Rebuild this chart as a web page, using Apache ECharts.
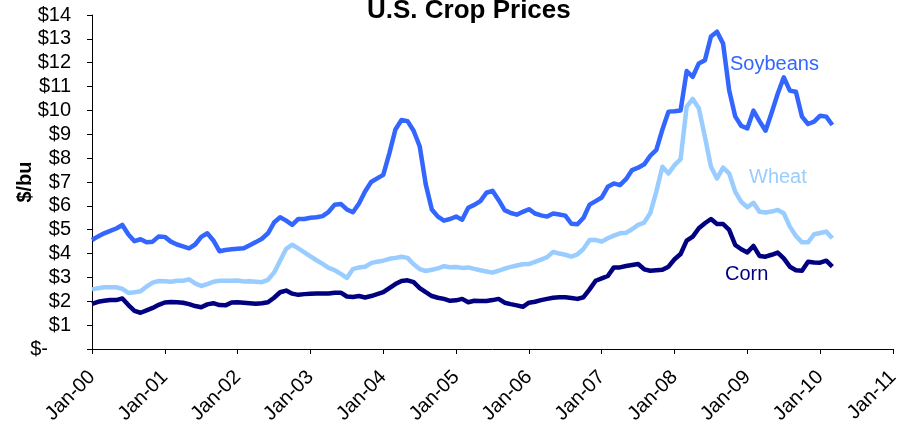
<!DOCTYPE html>
<html>
<head>
<meta charset="utf-8">
<script src="https://cdn.jsdelivr.net/npm/echarts@6/dist/echarts.min.js"></script>
<style>
  html, body { margin: 0; padding: 0; background: #ffffff; }
  #chart { width: 903px; height: 433px; }
</style>
</head>
<body>
<div id="chart"></div>
<script>
// Monthly farm prices, $/bushel, Jan 2000 – Mar 2010
const yearCodes = ['00', '01', '02', '03', '04', '05', '06', '07', '08', '09', '10', '11'];
const monthNames = ['Jan', 'Feb', 'Mar', 'Apr', 'May', 'Jun', 'Jul', 'Aug', 'Sep', 'Oct', 'Nov', 'Dec'];

const soybeans = [
  4.57, 4.72, 4.85, 4.95, 5.05, 5.20, 4.80, 4.52, 4.60, 4.47, 4.50, 4.72,
  4.70, 4.50, 4.38, 4.30, 4.22, 4.38, 4.70, 4.85, 4.55, 4.10, 4.15, 4.18,
  4.20, 4.22, 4.35, 4.48, 4.62, 4.85, 5.30, 5.52, 5.38, 5.20, 5.45, 5.45,
  5.50, 5.52, 5.57, 5.75, 6.05, 6.08, 5.85, 5.73, 6.10, 6.60, 7.00, 7.15,
  7.30, 8.20, 9.20, 9.60, 9.55, 9.15, 8.50, 6.90, 5.85, 5.55, 5.38, 5.45,
  5.55, 5.42, 5.92, 6.04, 6.20, 6.55, 6.63, 6.25, 5.82, 5.70, 5.63, 5.75,
  5.86, 5.68, 5.60, 5.55, 5.68, 5.64, 5.59, 5.25, 5.23, 5.50, 6.05, 6.20,
  6.35, 6.80, 6.94, 6.87, 7.12, 7.50, 7.60, 7.74, 8.10, 8.35, 9.20, 9.95,
  9.97, 10.00, 11.65, 11.41, 11.97, 12.10, 13.10, 13.30, 12.80, 10.85, 9.75, 9.35,
  9.25, 9.99, 9.55, 9.15, 9.90, 10.70, 11.39, 10.83, 10.78, 9.74, 9.43, 9.53,
  9.78, 9.74, 9.39
];

const wheat = [
  2.50, 2.55, 2.59, 2.59, 2.59, 2.52, 2.35, 2.38, 2.42, 2.62, 2.78, 2.85,
  2.84, 2.82, 2.86, 2.86, 2.92, 2.75, 2.64, 2.72, 2.82, 2.86, 2.86, 2.86,
  2.87, 2.83, 2.84, 2.82, 2.80, 2.90, 3.20, 3.70, 4.20, 4.37, 4.22, 4.05,
  3.88, 3.72, 3.57, 3.40, 3.30, 3.15, 2.98, 3.35, 3.42, 3.45, 3.60, 3.66,
  3.70, 3.78, 3.82, 3.87, 3.82, 3.55, 3.35, 3.27, 3.32, 3.38, 3.47, 3.43,
  3.44, 3.40, 3.42, 3.36, 3.30, 3.25, 3.20, 3.28, 3.37, 3.44, 3.50, 3.55,
  3.56, 3.65, 3.75, 3.85, 4.07, 4.00, 3.95, 3.87, 3.97, 4.20, 4.57, 4.57,
  4.50, 4.64, 4.75, 4.85, 4.87, 5.02, 5.20, 5.30, 5.70, 6.60, 7.64, 7.36,
  7.71, 7.96, 10.16, 10.48, 10.09, 8.90, 7.64, 7.15, 7.60, 7.36, 6.59, 6.17,
  5.94, 6.13, 5.75, 5.72, 5.76, 5.83, 5.69, 5.13, 4.74, 4.47, 4.47, 4.81,
  4.86, 4.92, 4.64
];

const corn = [
  1.89, 1.98, 2.02, 2.05, 2.05, 2.12, 1.84, 1.60, 1.52, 1.62, 1.72, 1.85,
  1.95, 1.97, 1.96, 1.94, 1.88, 1.80, 1.75, 1.87, 1.92, 1.84, 1.83, 1.95,
  1.96, 1.94, 1.92, 1.90, 1.92, 1.96, 2.15, 2.38, 2.45, 2.32, 2.27, 2.30,
  2.32, 2.33, 2.33, 2.33, 2.36, 2.36, 2.20, 2.18, 2.22, 2.16, 2.22, 2.30,
  2.38, 2.55, 2.72, 2.85, 2.88, 2.80, 2.55, 2.38, 2.22, 2.15, 2.10, 2.02,
  2.04, 2.10, 1.96, 2.02, 2.01, 2.01, 2.05, 2.10, 1.94, 1.88, 1.83, 1.77,
  1.94, 1.98, 2.05, 2.10, 2.15, 2.17, 2.17, 2.14, 2.10, 2.17, 2.50, 2.86,
  2.96, 3.06, 3.42, 3.42, 3.48, 3.52, 3.56, 3.34, 3.28, 3.30, 3.32, 3.45,
  3.76, 3.98, 4.54, 4.71, 5.06, 5.27, 5.45, 5.24, 5.24, 4.99, 4.36, 4.18,
  4.05, 4.32, 3.90, 3.87, 3.95, 4.04, 3.80, 3.45, 3.30, 3.28, 3.66, 3.63,
  3.62, 3.70, 3.45
];

// Month labels from Jan-00 through Jan-11 (the axis runs one year past the data)
const categories = [];
yearCodes.forEach(function (y, i) {
  monthNames.forEach(function (m) {
    if (i < yearCodes.length - 1 || m === 'Jan') categories.push(m + '-' + y);
  });
});

const FONT = 'Liberation Sans, Arial, Helvetica, sans-serif';
const COLORS = { soybeans: '#3366FF', wheat: '#99CCFF', corn: '#000080' };

const chart = echarts.init(document.getElementById('chart'), null, { renderer: 'canvas' });

function lineSeries(name, data, color) {
  return {
    name: name,
    type: 'line',
    data: data,
    showSymbol: false,
    symbol: 'none',
    silent: true,
    animation: false,
    lineStyle: { color: color, width: 4.5, join: 'round', cap: 'butt' },
    itemStyle: { color: color }
  };
}

chart.setOption({
  animation: false,
  backgroundColor: '#ffffff',
  title: {
    text: 'U.S. Crop Prices',
    left: 362,
    top: -7,
    textStyle: { fontFamily: FONT, fontSize: 26, fontWeight: 'bold', color: '#000000' }
  },
  grid: { left: 92, right: 10, top: 15, bottom: 84, containLabel: false, outerBoundsMode: 'none' },
  xAxis: {
    type: 'category',
    data: categories,
    boundaryGap: false,
    axisLine: { show: true, lineStyle: { color: '#000000', width: 1 } },
    axisTick: { show: true, interval: 11, length: 5, lineStyle: { color: '#000000' } },
    axisLabel: {
      interval: 11,
      rotate: 45,
      margin: 25,
      fontFamily: FONT,
      fontSize: 20,
      color: '#000000'
    },
    splitLine: { show: false }
  },
  yAxis: {
    type: 'value',
    min: 0,
    max: 14,
    interval: 1,
    name: '$/bu',
    nameLocation: 'middle',
    nameRotate: 90,
    nameGap: 57,
    nameMoveOverlap: false,
    nameTextStyle: { fontFamily: FONT, fontSize: 20, fontWeight: 'bold', color: '#000000' },
    axisLine: { show: true, lineStyle: { color: '#000000', width: 1 } },
    axisTick: { show: true, length: 5, lineStyle: { color: '#000000' } },
    axisLabel: {
      margin: 21,
      fontFamily: FONT,
      fontSize: 20,
      color: '#000000',
      formatter: function (v) { return v === 0 ? '{dash|$-}' : '$' + v; },
      rich: {
        dash: { fontFamily: FONT, fontSize: 20, color: '#000000', padding: [0, 23, 0, 0] }
      }
    },
    splitLine: { show: false }
  },
  series: [
    lineSeries('Soybeans', soybeans, COLORS.soybeans),
    lineSeries('Wheat', wheat, COLORS.wheat),
    lineSeries('Corn', corn, COLORS.corn)
  ],
  graphic: [
    { type: 'text', x: 730, y: 64.5, silent: true,
      style: { text: 'Soybeans', fill: COLORS.soybeans, font: '20px ' + FONT, textVerticalAlign: 'middle' } },
    { type: 'text', x: 749, y: 177.5, silent: true,
      style: { text: 'Wheat', fill: COLORS.wheat, font: '20px ' + FONT, textVerticalAlign: 'middle' } },
    { type: 'text', x: 725, y: 274, silent: true,
      style: { text: 'Corn', fill: COLORS.corn, font: '20px ' + FONT, textVerticalAlign: 'middle' } }
  ]
});
</script>
</body>
</html>
